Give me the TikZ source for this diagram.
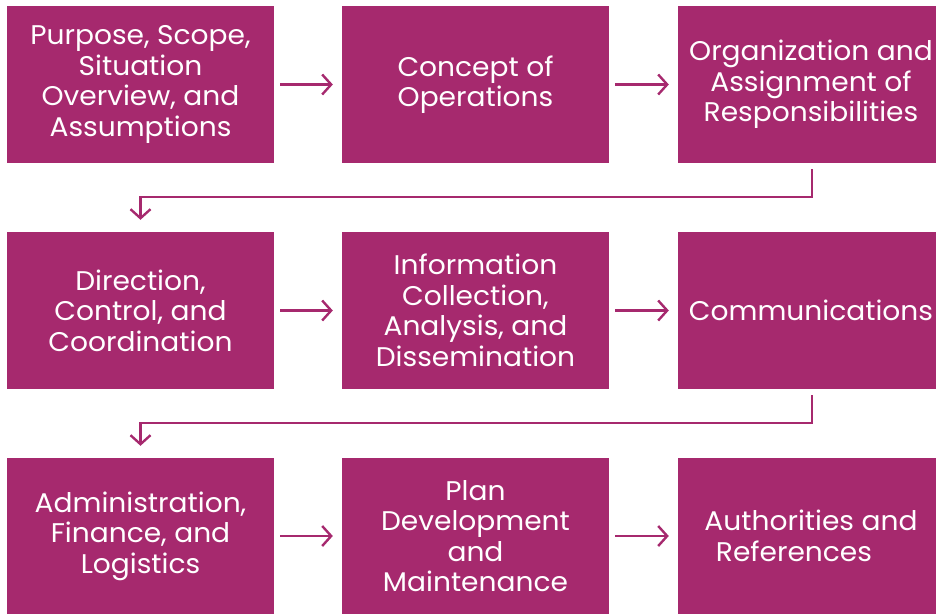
\documentclass[tikz,border=0pt]{standalone}
\usepackage{fontspec}
\setmainfont{Poppins}[FakeStretch=1.04]
\usetikzlibrary{arrows.meta}
\definecolor{plum}{RGB}{166,41,110}
\newcommand{\rs}{\hspace*{8pt}}
\tikzset{
  box/.style={fill=plum, draw=none, text=white, align=center, inner sep=0pt,
    font=\fontsize{27}{30.5}\selectfont},
  arr/.style={draw=plum, line width=2.4pt,
    -{Straight Barb[length=9pt,width=20pt,line width=2.4pt]}},
}
\begin{document}
\begin{tikzpicture}[x=1pt,y=-1pt]
\useasboundingbox (0,0) rectangle (936,614);
\node[box, minimum width=267pt, minimum height=157pt] (b1) at (140.5,84.5) {Purpose, Scope,\\Situation\\Overview, and\\Assumptions};
\node[box, minimum width=267pt, minimum height=157pt] (b2) at (475.5,84.5) {Concept of\\Operations};
\node[box, minimum width=258pt, minimum height=157pt] (b3) at (807,84.5) {\rs Organization and\\\rs Assignment of\\\rs Responsibilities};
\node[box, minimum width=267pt, minimum height=157pt] (b4) at (140.5,310.5) {Direction,\\Control, and\\Coordination};
\node[box, minimum width=267pt, minimum height=157pt] (b5) at (475.5,310.5) {Information\\Collection,\\Analysis, and\\Dissemination};
\node[box, minimum width=258pt, minimum height=157pt] (b6) at (807,310.5) {\rs Communications};
\node[box, minimum width=267pt, minimum height=156pt] (b7) at (140.5,536) {Administration,\\Finance, and\\Logistics};
\node[box, minimum width=267pt, minimum height=156pt] (b8) at (475.5,536) {Plan\\Development\\and\\Maintenance};
\node[box, minimum width=258pt, minimum height=156pt] (b9) at (807,536) {\rs Authorities and\\\rs References\hspace*{34pt}};
\draw[arr] ([xshift=6pt]b1.east) -- ([xshift=-9pt]b2.west);
\draw[arr] ([xshift=6pt]b2.east) -- ([xshift=-9pt]b3.west);
\draw[arr] ([xshift=6pt]b4.east) -- ([xshift=-9pt]b5.west);
\draw[arr] ([xshift=6pt]b5.east) -- ([xshift=-9pt]b6.west);
\draw[arr] ([xshift=6pt]b7.east) -- ([xshift=-9pt]b8.west);
\draw[arr] ([xshift=6pt]b8.east) -- ([xshift=-9pt]b9.west);
\draw[arr] ([xshift=5pt,yshift=-6pt]b3.south) -- ++(0,28) -| ([yshift=12pt]b4.north);
\draw[arr] ([xshift=5pt,yshift=-6pt]b6.south) -- ++(0,28) -| ([yshift=12pt]b7.north);
\end{tikzpicture}
\end{document}
